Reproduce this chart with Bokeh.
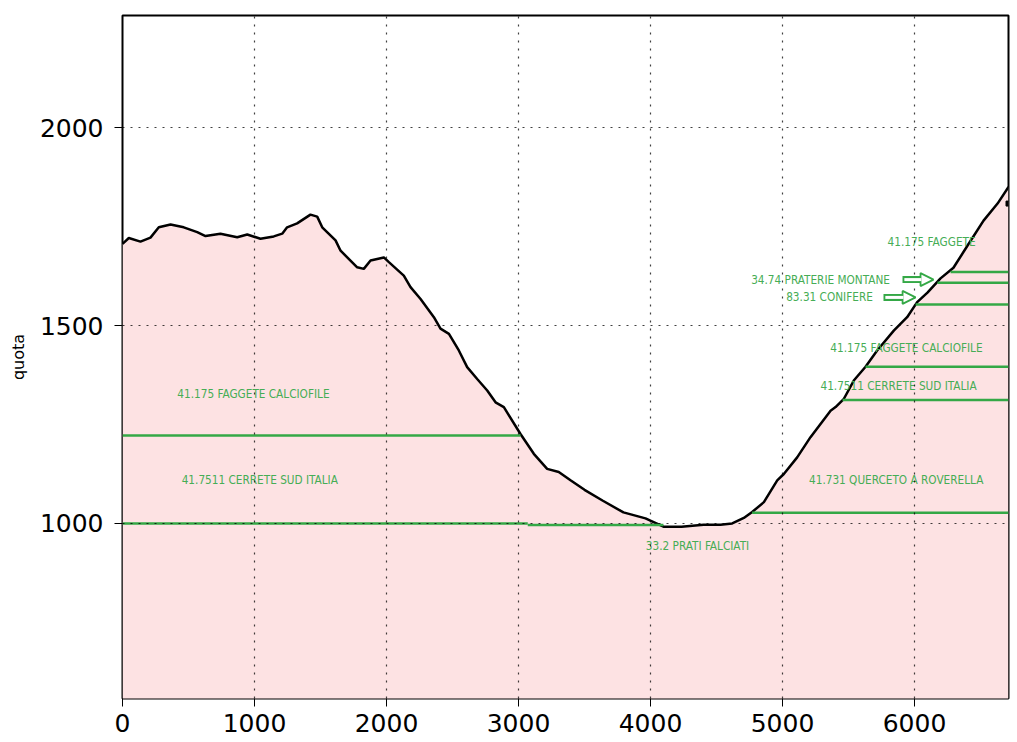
from bokeh.plotting import figure
from bokeh.models import Range1d, FixedTicker, Arrow, NormalHead, ColumnDataSource
from bokeh.core.properties import value
from bokeh.embed import file_html
from bokeh.resources import INLINE

# ---- data ----
distance = [0, 48, 136, 212, 275, 364, 464, 566, 629, 742, 869, 945, 1045, 1146, 1210,
            1247, 1323, 1424, 1475, 1513, 1614, 1652, 1778, 1828, 1879, 1980, 2018, 2131,
            2182, 2258, 2359, 2409, 2473, 2548, 2611, 2687, 2763, 2826, 2889, 3015, 3116,
            3217, 3305, 3394, 3500, 3636, 3795, 3962, 4098, 4235, 4402, 4530, 4619, 4707,
            4770, 4859, 4960, 5010, 5111, 5212, 5364, 5402, 5465, 5540, 5629, 5717, 5843,
            5944, 6020, 6098, 6197, 6295, 6402, 6523, 6629, 6712]
elevation = [1706, 1721, 1712, 1722, 1748, 1755, 1748, 1736, 1726, 1732, 1723, 1730, 1719,
             1725, 1732, 1748, 1758, 1780, 1775, 1748, 1715, 1689, 1647, 1643, 1664, 1672,
             1660, 1626, 1597, 1567, 1521, 1492, 1479, 1437, 1395, 1365, 1336, 1306, 1294,
             1226, 1176, 1138, 1130, 1109, 1085, 1058, 1028, 1013, 992, 992, 997, 997, 1000,
             1014, 1029, 1054, 1109, 1125, 1167, 1218, 1285, 1294, 1315, 1361, 1396, 1437,
             1487, 1521, 1559, 1583, 1619, 1646, 1702, 1765, 1808, 1850]

end_point_x = [6712]
end_point_y = [1808]

x_ticks = [0, 1000, 2000, 3000, 4000, 5000, 6000]
y_ticks = [1000, 1500, 2000]

zone_y = [1222, 1000, 996, 1027, 1312, 1396, 1553, 1608, 1635]
zone_x0 = [0, 0, 3070, 4770, 5455, 5629, 6008, 6174, 6273]
zone_x1 = [3015, 3070, 4098, 6712, 6712, 6712, 6712, 6712, 6712]

label_text = ["41.175 FAGGETE", "34.74 PRATERIE MONTANE", "83.31 CONIFERE",
              "41.175 FAGGETE CALCIOFILE", "41.7511 CERRETE SUD ITALIA",
              "41.731 QUERCETO A ROVERELLA", "33.2 PRATI FALCIATI",
              "41.175 FAGGETE CALCIOFILE", "41.7511 CERRETE SUD ITALIA"]
label_x = [6129, 5288, 5356, 5939, 5879, 5861, 4356, 992, 1040]
label_y = [1712, 1616, 1571, 1442, 1346, 1109, 942, 1326, 1109]

arrow_x0 = [5909, 5765]
arrow_x1 = [6144, 6008]
arrow_y = [1616, 1571]

x_min, x_max = 0, 6712
y_min, y_max = 558, 2283

GREEN_LINE = "#34a846"
GREEN_TEXT = "#46ad55"

p = figure(frame_width=886, frame_height=683,
           x_range=Range1d(x_min, x_max), y_range=Range1d(y_min, y_max),
           output_backend="svg", toolbar_location=None,
           min_border_left=122, min_border_top=15, min_border_right=9, min_border_bottom=44)

p.background_fill_color = "white"
p.border_fill_color = "white"
p.outline_line_color = "black"
p.outline_line_width = 2

# fill and profile
p.varea(x=distance, y1=0, y2=elevation, fill_color="#fde2e3", fill_alpha=1.0)
p.line(distance, elevation, line_color="black", line_width=2.5)
p.scatter(end_point_x, end_point_y, marker="square", size=5, color="black")

# zone boundaries
p.segment(x0=zone_x0, y0=zone_y, x1=zone_x1, y1=zone_y, line_color=GREEN_LINE, line_width=2.5)

# labels
p.text(x=label_x, y=label_y, text=label_text, text_align="center", text_baseline="middle",
       text_color=GREEN_TEXT, text_font=value("DejaVu Sans Condensed"), text_font_size="11.7px")

# hollow arrows
asrc = ColumnDataSource(dict(x0=arrow_x0, x1=arrow_x1, y=arrow_y))
p.add_layout(Arrow(x_start="x0", y_start="y", x_end="x1", y_end="y", source=asrc,
                   line_color=GREEN_LINE, line_width=7,
                   end=NormalHead(size=13, fill_color="white", line_color=GREEN_LINE,
                                  line_width=1.8)))
inner_x0 = [a + 14 for a in arrow_x0]
inner_x1 = [b - 92 for b in arrow_x1]
inner = p.segment(x0=inner_x0, y0=arrow_y, x1=inner_x1, y1=arrow_y,
                  line_color="white", line_width=3)
inner.level = "overlay"

# grids
p.xgrid.ticker = FixedTicker(ticks=x_ticks)
p.ygrid.ticker = FixedTicker(ticks=y_ticks)
for g in (p.xgrid, p.ygrid):
    g.grid_line_color = "black"
    g.grid_line_alpha = 0.75
    g.grid_line_dash = "2 6"
    g.grid_line_width = 1.2
p.xgrid.level = "glyph"
p.ygrid.level = "glyph"

# axes
p.xaxis.ticker = FixedTicker(ticks=x_ticks)
p.yaxis.ticker = FixedTicker(ticks=y_ticks)
for ax in (p.xaxis, p.yaxis):
    ax.axis_line_color = None
    ax.major_tick_in = 0
    ax.major_tick_out = 8
    ax.major_tick_line_color = "black"
    ax.minor_tick_line_color = None
    ax.major_label_text_font = "DejaVu Sans"
    ax.major_label_text_color = "black"
    ax.major_label_text_font_size = "25px"
p.xaxis.major_label_standoff = 7
p.yaxis.major_label_standoff = 11
p.yaxis.axis_label = "quota"
p.yaxis.axis_label_text_font = "DejaVu Sans"
p.yaxis.axis_label_text_font_size = "16px"
p.yaxis.axis_label_text_font_style = "normal"
p.yaxis.axis_label_text_color = "black"
p.yaxis.axis_label_standoff = 9

open("out.html", "w").write(file_html(p, INLINE))
